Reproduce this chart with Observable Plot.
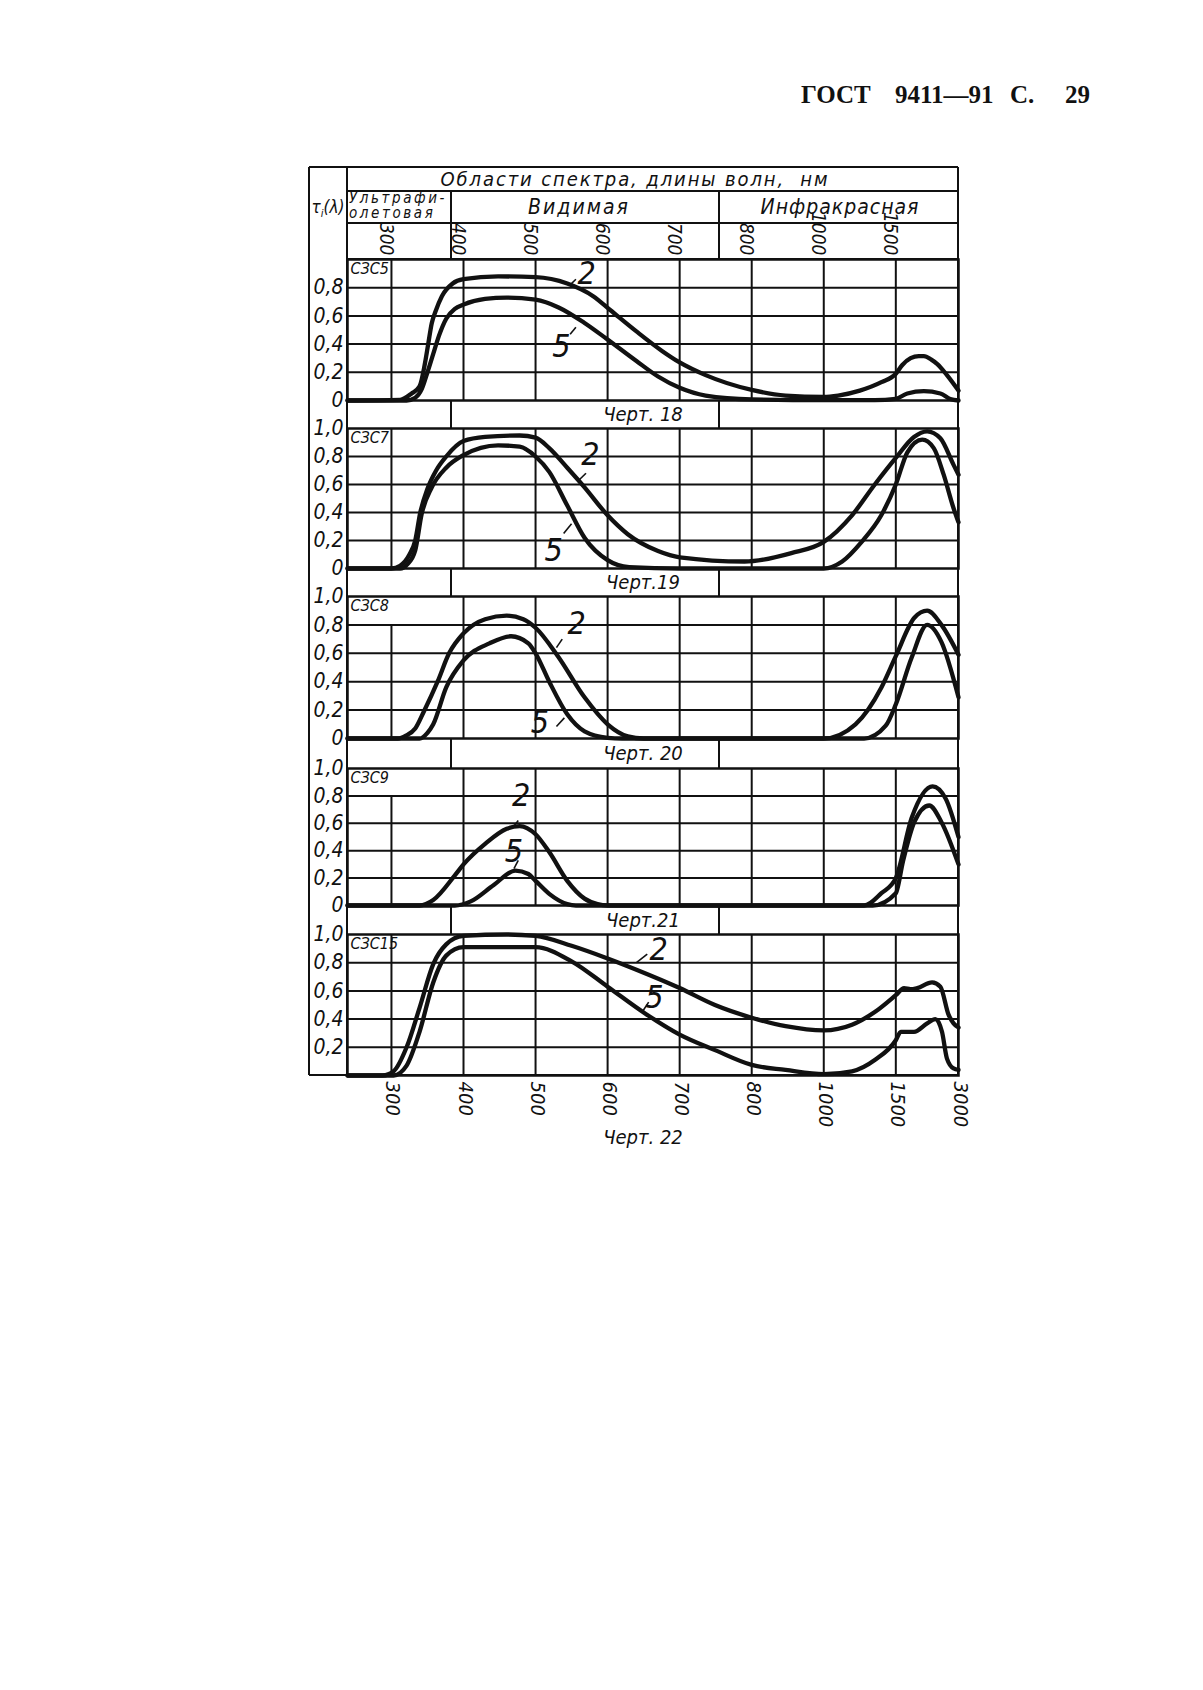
<!DOCTYPE html>
<html><head><meta charset="utf-8">
<script src="https://cdn.jsdelivr.net/npm/d3@7"></script>
<script src="https://cdn.jsdelivr.net/npm/@observablehq/plot@0.6"></script>
<style>
body{margin:0;background:#fff;}
#page{position:relative;width:1203px;height:1690px;background:#fff;overflow:hidden;
 font-family:"Liberation Sans Narrow","DejaVu Sans Condensed","Liberation Sans","DejaVu Sans",sans-serif;font-style:italic;color:#111;}
.ln{position:absolute;background:#111;}
.t{position:absolute;white-space:nowrap;line-height:1;}
.hdr{font-family:"Liberation Serif","DejaVu Serif",serif;font-weight:bold;font-style:normal;}
</style></head><body><div id="page"></div>
<script>
// ---------------- data ----------------
const wavelengthTicks = [300, 400, 500, 600, 700, 800, 1000, 1500, 3000];
const headerTicks = [300, 400, 500, 600, 700, 800, 1000, 1500];
const xDomain = [240, 300, 400, 500, 600, 700, 800, 1000, 1500, 3000];
const panelNames = ["СЗС5", "СЗС7", "СЗС8", "СЗС9", "СЗС15"];
const figureLabels = ["Черт. 18", "Черт.19", "Черт. 20", "Черт.21", "Черт. 22"];
const regionTitle = "Области спектра, длины волн,&nbsp; нм";
const regionNames = ["Ультрафи-<br>олетовая", "Видимая", "Инфракрасная"];
const yTickSets = [
  [0, 0.2, 0.4, 0.6, 0.8],
  [0, 0.2, 0.4, 0.6, 0.8, 1.0],
  [0, 0.2, 0.4, 0.6, 0.8, 1.0],
  [0, 0.2, 0.4, 0.6, 0.8, 1.0],
  [0.2, 0.4, 0.6, 0.8, 1.0]
];
const gridValues = [0.2, 0.4, 0.6, 0.8];

// curves: [wavelength nm, transmission]
const szs5_2 = [[240,0],[312,0.005],[328,0.05],[339,0.1],[346,0.25],[351,0.4],[356,0.55],[361,0.63],[370,0.74],[385,0.83],[400,0.86],[448,0.88],[500,0.875],[544,0.83],[580,0.74],[604,0.64],[640,0.49],[676,0.35],[700,0.27],[736,0.18],[800,0.075],[894,0.035],[1000,0.025],[1100,0.035],[1250,0.07],[1400,0.13],[1500,0.19],[1650,0.25],[1855,0.3],[2050,0.315],[2171,0.315],[2350,0.29],[2487,0.26],[2724,0.18],[3000,0.07]];
const szs5_5 = [[240,0],[321,0],[333,0.02],[342,0.08],[350,0.2],[358,0.33],[366,0.46],[376,0.58],[388,0.65],[400,0.68],[430,0.72],[460,0.73],[500,0.715],[532,0.66],[568,0.55],[598,0.44],[640,0.28],[670,0.17],[700,0.09],[736,0.035],[800,0.008],[1000,0.003],[1354,0.003],[1500,0.012],[1776,0.05],[2171,0.066],[2566,0.05],[2803,0.01],[3000,0]];
const szs7_2 = [[240,0],[300,0],[312,0.02],[325,0.1],[333,0.2],[340,0.4],[350,0.57],[362,0.7],[376,0.8],[400,0.91],[430,0.94],[478,0.95],[500,0.935],[519,0.86],[544,0.72],[568,0.58],[600,0.38],[628,0.245],[670,0.125],[700,0.08],[790,0.05],[910,0.11],[1000,0.19],[1196,0.38],[1354,0.6],[1500,0.79],[1934,0.94],[2250,0.98],[2566,0.93],[2882,0.74],[3000,0.67]];
const szs7_5 = [[240,0],[312,0],[322,0.03],[333,0.13],[342,0.39],[356,0.58],[376,0.72],[400,0.81],[448,0.88],[478,0.87],[500,0.8],[519,0.69],[544,0.45],[568,0.22],[600,0.06],[630,0.01],[700,0],[1000,0],[1128,0.05],[1263,0.19],[1399,0.38],[1500,0.6],[1776,0.83],[2132,0.92],[2408,0.86],[2645,0.67],[2882,0.43],[3000,0.33]];
const szs8_2 = [[240,0],[309,0],[320,0.02],[333,0.07],[345,0.19],[364,0.4],[380,0.6],[400,0.74],[430,0.84],[460,0.865],[483,0.84],[500,0.78],[531,0.58],[568,0.29],[600,0.1],[628,0.015],[650,0],[1000,0],[1220,0.1],[1400,0.36],[1500,0.58],[1944,0.85],[2250,0.9],[2592,0.8],[3000,0.59]];
const szs8_5 = [[240,0],[339,0],[350,0.04],[358,0.1],[376,0.36],[400,0.55],[436,0.67],[466,0.72],[490,0.67],[500,0.6],[519,0.4],[544,0.17],[568,0.05],[600,0.005],[620,0],[1280,0],[1430,0.09],[1500,0.24],[1880,0.57],[2250,0.8],[2590,0.68],[3000,0.29]];
const szs9_2 = [[240,0],[339,0],[358,0.04],[388,0.22],[400,0.3],[430,0.45],[460,0.56],[478,0.58],[500,0.52],[519,0.39],[544,0.18],[568,0.05],[586,0.01],[600,0],[1280,0],[1400,0.09],[1500,0.2],[1880,0.64],[2380,0.87],[2694,0.78],[3000,0.5]];
const szs9_5 = [[240,0],[388,0],[410,0.03],[442,0.15],[472,0.255],[490,0.23],[500,0.18],[519,0.085],[544,0.01],[556,0],[1340,0],[1500,0.09],[1670,0.32],[1944,0.61],[2300,0.73],[2590,0.61],[3000,0.3]];
const szs15_2 = [[240,0],[288,0],[303,0.03],[321,0.2],[339,0.48],[358,0.79],[376,0.93],[400,0.99],[460,1.0],[500,0.99],[550,0.92],[600,0.83],[640,0.75],[700,0.62],[749,0.5],[800,0.41],[894,0.35],[1000,0.32],[1196,0.36],[1354,0.45],[1500,0.57],[1697,0.62],[1850,0.612],[2013,0.62],[2368,0.66],[2566,0.63],[2764,0.43],[2882,0.37],[3000,0.34]];
const szs15_5 = [[240,0],[303,0],[321,0.07],[339,0.31],[358,0.66],[376,0.85],[400,0.91],[500,0.91],[550,0.81],[600,0.63],[652,0.44],[700,0.29],[749,0.18],[800,0.075],[894,0.04],[1000,0.01],[1196,0.03],[1354,0.11],[1500,0.25],[1618,0.31],[1934,0.31],[2250,0.37],[2447,0.4],[2605,0.31],[2724,0.12],[2882,0.05],[3000,0.04]];
const curves2 = [szs5_2, szs7_2, szs8_2, szs9_2, szs15_2];
const curves5 = [szs5_5, szs7_5, szs8_5, szs9_5, szs15_5];

// curve number labels: [text, wavelength, transmission]
const curveLabels = [
  [["2",571,0.9],["5",536,0.38]],
  [["2",576,0.81],["5",525,0.13]],
  [["2",557,0.81],["5",506,0.11]],
  [["2",480,0.8],["5",470,0.39]],
  [["2",671,0.89],["5",665,0.55]]
];
// leader strokes: [wl1, t1, wl2, t2]
const leaders = [
  [[548,0.82,556,0.86],[548,0.47,556,0.52]],
  [[560,0.63,570,0.68],[539,0.25,550,0.32]],
  [[529,0.64,537,0.7],[529,0.085,540,0.145]],
  [[470,0.58,476,0.62],[470,0.27,476,0.33]],
  [[640,0.8,655,0.86],[648,0.45,657,0.52]]
];
// top of the 300 nm grid line in each panel (label cell left open)
const gridTop300 = [1, 1, 0.8, 0.8, 1];

// ---------------- layout ----------------
// the wavelength axis is drawn with (nearly) equal steps between the labelled wavelengths
const axisSteps = [-0.61, 0, 1, 2, 3, 4, 5, 6, 7, 7.87];
const xPos = d3.scaleLinear().domain(xDomain).range(axisSteps);
const outerLeft = 309, plotLeft = 347, plotRight = 958;
const headTop = 167, row1 = 191, row2 = 223, headBottom = 259;
const sepUV = 451, sepIR = 719;
const panelTops = [259, 428, 596, 768, 934];
const panelBottoms = [400, 568, 738, 905, 1075];
const FONT = '"Liberation Sans Narrow","DejaVu Sans Condensed","Liberation Sans","DejaVu Sans",sans-serif';
const fmt = v => v === 0 ? "0" : d3.format(".1f")(v).replace(".", ",");

const page = document.getElementById("page");
function line(x1, y1, x2, y2, w = 2) {
  const d = document.createElement("div"); d.className = "ln";
  if (y1 === y2) { d.style.left = x1 + "px"; d.style.top = (y1 - w / 2) + "px"; d.style.width = (x2 - x1) + "px"; d.style.height = w + "px"; }
  else { d.style.left = (x1 - w / 2) + "px"; d.style.top = y1 + "px"; d.style.width = w + "px"; d.style.height = (y2 - y1) + "px"; }
  page.appendChild(d);
}
function label(html, x, y, size, extra = {}) {
  const d = document.createElement("div"); d.className = "t" + (extra.cls ? " " + extra.cls : "");
  d.innerHTML = html; d.style.left = x + "px"; d.style.top = y + "px"; d.style.fontSize = size + "px";
  d.style.transform = `translate(${extra.ax ?? -50}%,-50%)`;
  if (extra.ls) d.style.letterSpacing = extra.ls;
  if (extra.lh) d.style.lineHeight = extra.lh;
  page.appendChild(d);
}

// page header
label("ГОСТ", 801, 94, 25, {cls: "hdr", ax: 0});
label("9411—91", 895, 94, 25, {cls: "hdr", ax: 0});
label("С.", 1010, 94, 25, {cls: "hdr", ax: 0});
label("29", 1065, 94, 25, {cls: "hdr", ax: 0});

// table frame
line(outerLeft, headTop, plotRight, headTop, 2.5);
line(outerLeft, panelBottoms[4], plotRight, panelBottoms[4], 2.5);
line(outerLeft, headTop, outerLeft, panelBottoms[4], 2.5);
line(plotLeft, headTop, plotLeft, panelBottoms[4], 2.5);
line(plotRight, headTop, plotRight, panelBottoms[4], 2.5);
line(plotLeft, row1, plotRight, row1, 2);
line(plotLeft, row2, plotRight, row2, 2);
line(plotLeft, headBottom, plotRight, headBottom, 2.5);
line(sepUV, row1, sepUV, headBottom, 2);
line(sepIR, row1, sepIR, headBottom, 2);
label(regionTitle, 635, 179, 20, {ls: "1.9px"});
label(regionNames[0], plotLeft + 2, 206, 15, {ax: 0, lh: "1", ls: "2.6px"});
label(regionNames[1], 579, 207, 21, {ls: "2px"});
label(regionNames[2], 840, 207, 21, {ls: "1px"});
label("τ<sub style='font-size:11px'>i</sub>(λ)", outerLeft + 19, 209, 17);

// bands between panels
for (let i = 0; i < 4; i++) {
  const y1 = panelBottoms[i], y2 = panelTops[i + 1];
  line(sepUV, y1, sepUV, y2, 2);
  line(sepIR, y1, sepIR, y2, 2);
  label(figureLabels[i], 643, (y1 + y2) / 2, 20);
}
label(figureLabels[4], 643, 1137, 20);

// panels
for (let i = 0; i < 5; i++) {
  const top = panelTops[i], bottom = panelBottoms[i];
  const mt = i === 0 ? 40 : 18, mb = i === 4 ? 60 : 18;
  const svgLeft = 300, mr = 20;
  const width = plotRight + mr - svgLeft;
  const height = mt + (bottom - top) + mb;
  const marks = [
    Plot.ruleY(gridValues, {stroke: "#111", strokeWidth: 2}),
    Plot.ruleX(headerTicks, {x: d => xPos(d), y1: 0, y2: d => d === 300 ? gridTop300[i] : 1, stroke: "#111", strokeWidth: 2}),
    Plot.frame({stroke: "#111", strokeWidth: 2.5}),
    Plot.line(curves2[i], {x: d => xPos(d[0]), y: d => d[1], curve: "monotone-x", stroke: "#111", strokeWidth: 4.3}),
    Plot.line(curves5[i], {x: d => xPos(d[0]), y: d => d[1], curve: "monotone-x", stroke: "#111", strokeWidth: 4.3}),
    Plot.link(leaders[i], {x1: d => xPos(d[0]), y1: d => d[1], x2: d => xPos(d[2]), y2: d => d[3], stroke: "#111", strokeWidth: 1.6}),
    Plot.text(curveLabels[i], {x: d => xPos(d[1]), y: d => d[2], text: d => d[0], fontSize: 32, fill: "#111"}),
    Plot.text([panelNames[i]], {frameAnchor: "top-left", dx: 3, dy: 3, textAnchor: "start", lineAnchor: "top", fontSize: 16, fill: "#111"})
  ];
  if (i === 0) {
    marks.push(Plot.text(headerTicks, {x: d => xPos(d), frameAnchor: "top", rotate: 90, textAnchor: "end", dx: 2, dy: -4, text: d => String(d), fontSize: 19, fill: "#111"}));
  }
  if (i === 4) {
    marks.push(Plot.text(wavelengthTicks, {x: d => xPos(d), frameAnchor: "bottom", rotate: 90, textAnchor: "start", dx: -5, dy: 6, text: d => String(d), fontSize: 20, fill: "#111"}));
  }
  const svg = Plot.plot({
    width, height, marginLeft: plotLeft - svgLeft, marginRight: mr, marginTop: mt, marginBottom: mb,
    style: {background: "transparent", overflow: "visible", fontFamily: FONT, fontStyle: "italic", fontSize: "21px", color: "#111"},
    x: {domain: [axisSteps[0], axisSteps[axisSteps.length - 1]], axis: null},
    y: {domain: [0, 1], ticks: yTickSets[i], tickFormat: fmt, tickSize: 0, tickPadding: 4, label: null},
    marks
  });
  svg.style.position = "absolute";
  svg.style.left = svgLeft + "px";
  svg.style.top = (top - mt) + "px";
  svg.style.maxWidth = "none";
  page.appendChild(svg);
}
</script></body></html>
